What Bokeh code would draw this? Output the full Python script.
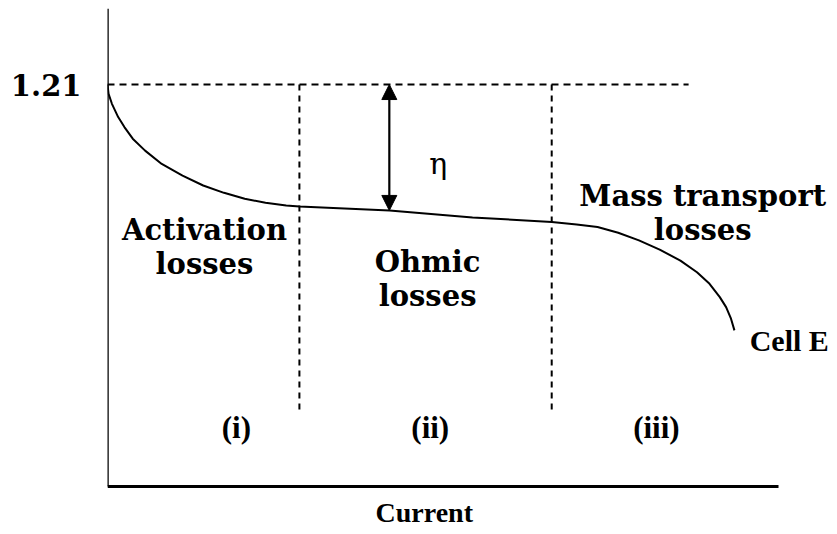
from bokeh.plotting import figure
from bokeh.models import Label, Arrow, NormalHead, FixedTicker, Range1d
from bokeh.embed import file_html
from bokeh.resources import INLINE

# ---- data (current in arbitrary units, cell voltage in V) ----
current = [0.0, 0.016, 0.066, 0.159, 0.252, 0.376, 0.560, 0.808, 1.118, 1.426,
           1.736, 2.045, 2.355, 2.663, 2.861, 4.203, 5.440, 6.621, 6.992, 7.303,
           7.611, 7.920, 8.229, 8.538, 8.785, 8.972, 9.125, 9.219, 9.292, 9.343]
voltage = [1.21, 1.182, 1.152, 1.112, 1.082, 1.047, 1.011, 0.971, 0.936, 0.906,
           0.884, 0.866, 0.854, 0.846, 0.843, 0.831, 0.810, 0.796, 0.789, 0.781,
           0.764, 0.741, 0.713, 0.680, 0.645, 0.610, 0.570, 0.540, 0.505, 0.470]

e_rev = 1.21                      # reversible voltage
axis_x_end = 10.0                 # end of the current axis
axis_y_end = 1.439                # top of the voltage axis
rev_line_x = [0.0, 8.66]          # extent of the dashed 1.21 line
region_bounds = [2.86, 6.62]      # boundaries between regions
region_bottom = 0.223
eta_x = 4.2                       # where the overpotential arrow is drawn
eta_low = 0.831

region_names = ["(i)", "(ii)", "(iii)"]
region_x = [1.92, 4.81, 8.18]
region_y = 0.178

loss_texts = ["Activation\nlosses", "Ohmic\nlosses", "Mass transport\nlosses"]
loss_x = [1.445, 4.77, 8.87]
loss_y = [0.721, 0.625, 0.823]

SLAB = "DejaVu Serif"
TIMES = "Liberation Serif"

p = figure(frame_width=721, frame_height=522, output_backend="svg",
           toolbar_location=None, min_border_left=107, min_border_right=0,
           min_border_top=8, min_border_bottom=0,
           x_range=Range1d(0, 10.745), y_range=Range1d(-0.1325, 1.4389))
p.outline_line_color = None
p.xgrid.visible = False
p.ygrid.visible = False
p.background_fill_color = "white"
p.border_fill_color = "white"
p.xaxis.visible = False

# left axis only used for the 1.21 label
p.yaxis.ticker = FixedTicker(ticks=[e_rev])
p.yaxis.axis_line_color = None
p.yaxis.major_tick_line_color = None
p.yaxis.minor_tick_line_color = None
p.yaxis.major_label_standoff = 20
p.yaxis.major_label_text_font = SLAB
p.yaxis.major_label_text_font_style = "bold"
p.yaxis.major_label_text_font_size = "29px"
p.yaxis.major_label_text_color = "black"

# axis lines
p.line([0, 0], [0, axis_y_end], line_color="black", line_width=2.5)
p.line([0, axis_x_end], [0, 0], line_color="black", line_width=3)

# dashed reference lines
p.line(rev_line_x, [e_rev, e_rev], line_color="black", line_width=2, line_dash="7 5")
for xb in region_bounds:
    p.line([xb, xb], [e_rev, region_bottom], line_color="black", line_width=2,
           line_dash="6 5")

# polarisation curve
p.line(current, voltage, line_color="black", line_width=2, line_join="round")

# overpotential arrow
p.add_layout(Arrow(x_start=eta_x, y_start=eta_low, x_end=eta_x, y_end=e_rev,
                   line_width=2.2, line_color="black",
                   start=NormalHead(size=15, fill_color="black", line_color="black"),
                   end=NormalHead(size=15, fill_color="black", line_color="black")))
p.add_layout(Label(x=4.93, y=0.972, text="η", text_font="DejaVu Serif",
                   text_font_size="30px", text_align="center",
                   text_baseline="middle", text_color="black"))

# region descriptions
for t, xx, yy in zip(loss_texts, loss_x, loss_y):
    p.add_layout(Label(x=xx, y=yy, text=t, text_font=SLAB, text_font_style="bold",
                       text_font_size="29px", text_align="center",
                       text_baseline="middle", text_line_height=1.0,
                       text_color="black"))

for t, xx in zip(region_names, region_x):
    p.add_layout(Label(x=xx, y=region_y, text=t, text_font=TIMES,
                       text_font_style="bold", text_font_size="31px",
                       text_align="center", text_baseline="middle",
                       text_color="black"))

p.add_layout(Label(x=9.57, y=0.44, text="Cell E", text_font=TIMES,
                   text_font_style="bold", text_font_size="30px",
                   text_align="left", text_baseline="middle", text_color="black"))

p.add_layout(Label(x=4.72, y=-0.0783, text="Current", text_font=TIMES,
                   text_font_style="bold", text_font_size="28px",
                   text_align="center", text_baseline="middle", text_color="black"))

open("out.html", "w").write(file_html(p, INLINE))
